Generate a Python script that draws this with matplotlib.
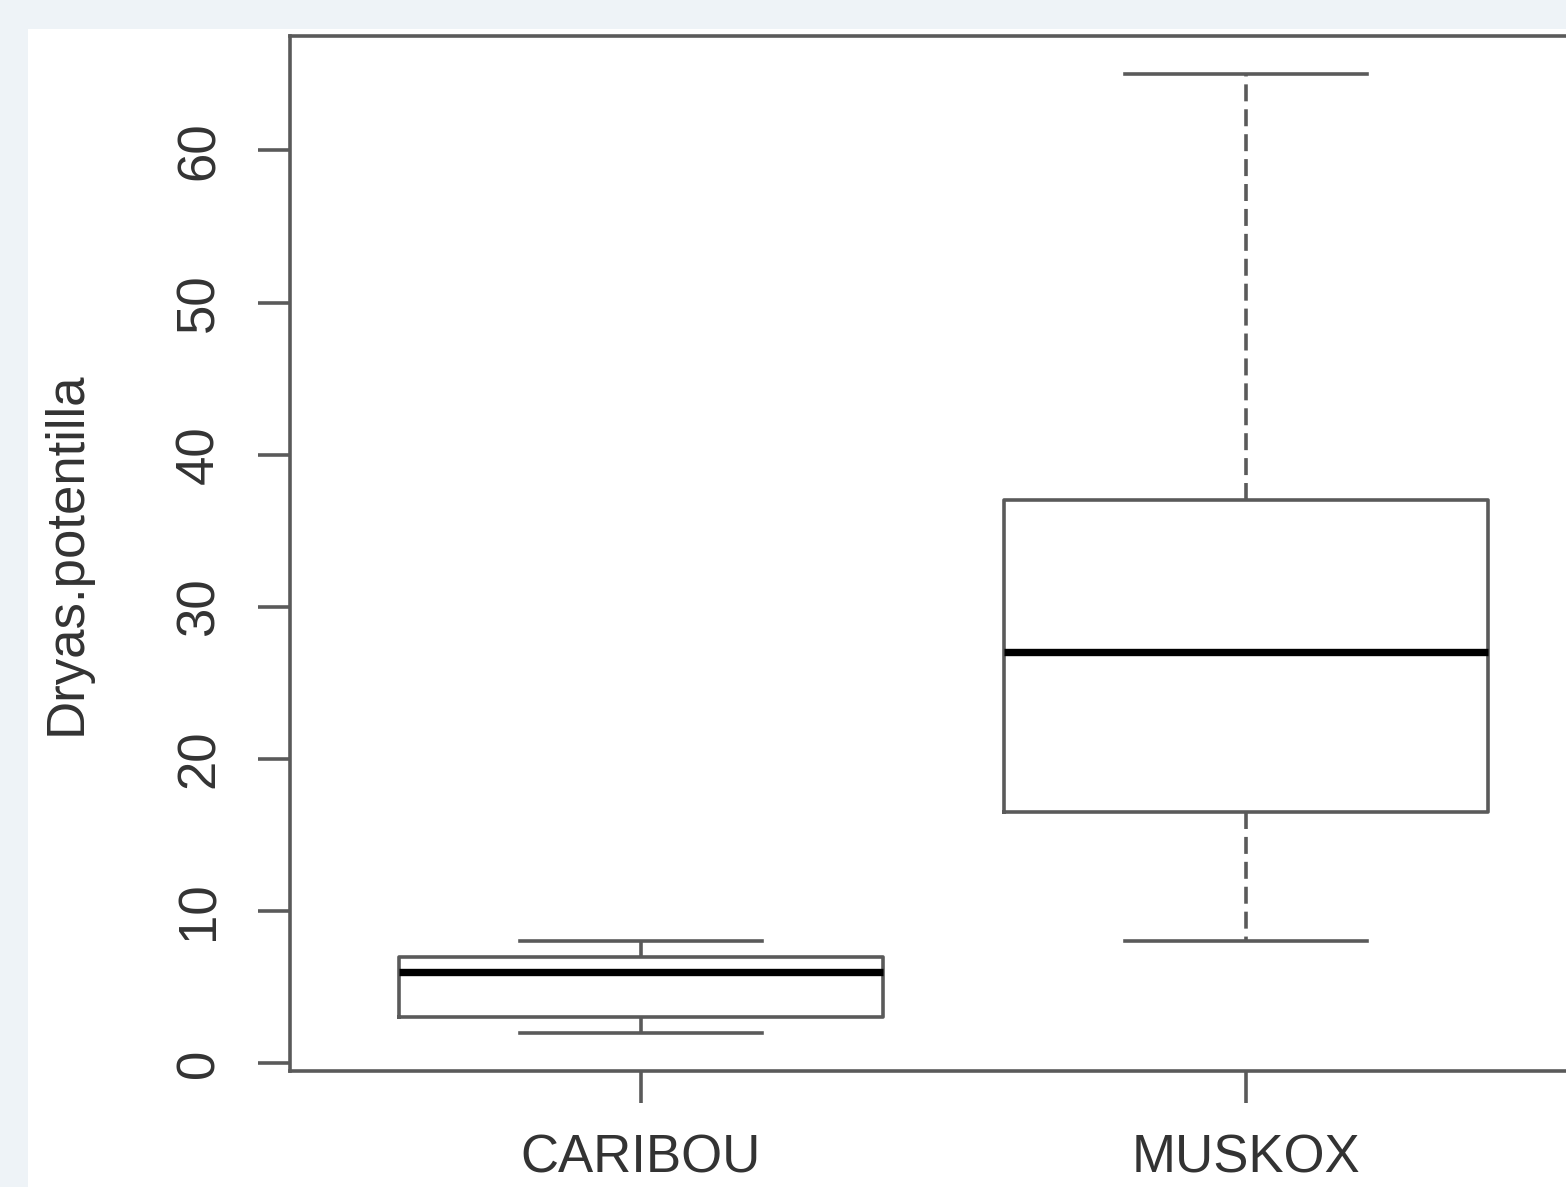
import matplotlib
matplotlib.use('Agg')
import matplotlib.pyplot as plt
from matplotlib.patches import Rectangle

# ---- data ----
groups = ['CARIBOU', 'MUSKOX']
whisker_low = [2, 8]
q1 = [3, 16.5]
medians = [6, 27]
q3 = [7, 37]
whisker_high = [8, 65]
y_ticks = [0, 10, 20, 30, 40, 50, 60]
y_label = 'Dryas.potentilla'

plt.rcParams['font.family'] = ['Liberation Sans', 'DejaVu Sans']

W, H = 1566, 1187
dpi = 100
fig = plt.figure(figsize=(W / dpi, H / dpi), dpi=dpi)
fig.patch.set_facecolor('#eef3f7')
fig.patches.append(Rectangle((28 / W, 0), 1, 1 - 29 / H, transform=fig.transFigure,
                             facecolor='white', edgecolor='none', zorder=-10))

left_px, top_px, bottom_px = 290, 36, 1071
width_px = 2.16 * 605
ax = fig.add_axes([left_px / W, (H - bottom_px) / H, width_px / W, (bottom_px - top_px) / H])
ax.set_facecolor('none')
ax.set_zorder(5)

line_col = '#5a5a5a'
lw = 2.6
stats = []
for i, g in enumerate(groups):
    stats.append(dict(label=g, whislo=whisker_low[i], q1=q1[i], med=medians[i],
                      q3=q3[i], whishi=whisker_high[i], fliers=[]))

ax.bxp(stats, positions=[1, 2], widths=0.8, capwidths=0.4, showfliers=False,
       boxprops=dict(color=line_col, linewidth=lw),
       whiskerprops=dict(color=line_col, linewidth=lw, linestyle=(0, (4.7, 2.2))),
       capprops=dict(color=line_col, linewidth=lw),
       medianprops=dict(color='black', linewidth=5.3, solid_capstyle='butt'))

ax.set_xlim(0.42, 2.58)
ax.set_ylim(-0.52, 67.52)
ax.set_xticks([1, 2])
ax.set_xticklabels(groups)
ax.set_yticks(y_ticks)
ax.set_yticklabels([str(t) for t in y_ticks])

txt_col = '#333333'
fs = 38
ax.tick_params(axis='both', length=23, width=lw, color=line_col, labelsize=fs,
               labelcolor=txt_col, direction='out')
ax.tick_params(axis='x', pad=22)
ax.tick_params(axis='y', pad=24)
for lab in ax.get_yticklabels():
    lab.set_rotation(90)
    lab.set_va('center')
    lab.set_ha('right')

for s in ax.spines.values():
    s.set_color(line_col)
    s.set_linewidth(lw)

ax.set_ylabel(y_label, fontsize=fs, color=txt_col)
ax.yaxis.set_label_coords((92 - left_px) / width_px, 0.5)

fig.savefig('out.png', dpi=dpi, facecolor=fig.get_facecolor())
